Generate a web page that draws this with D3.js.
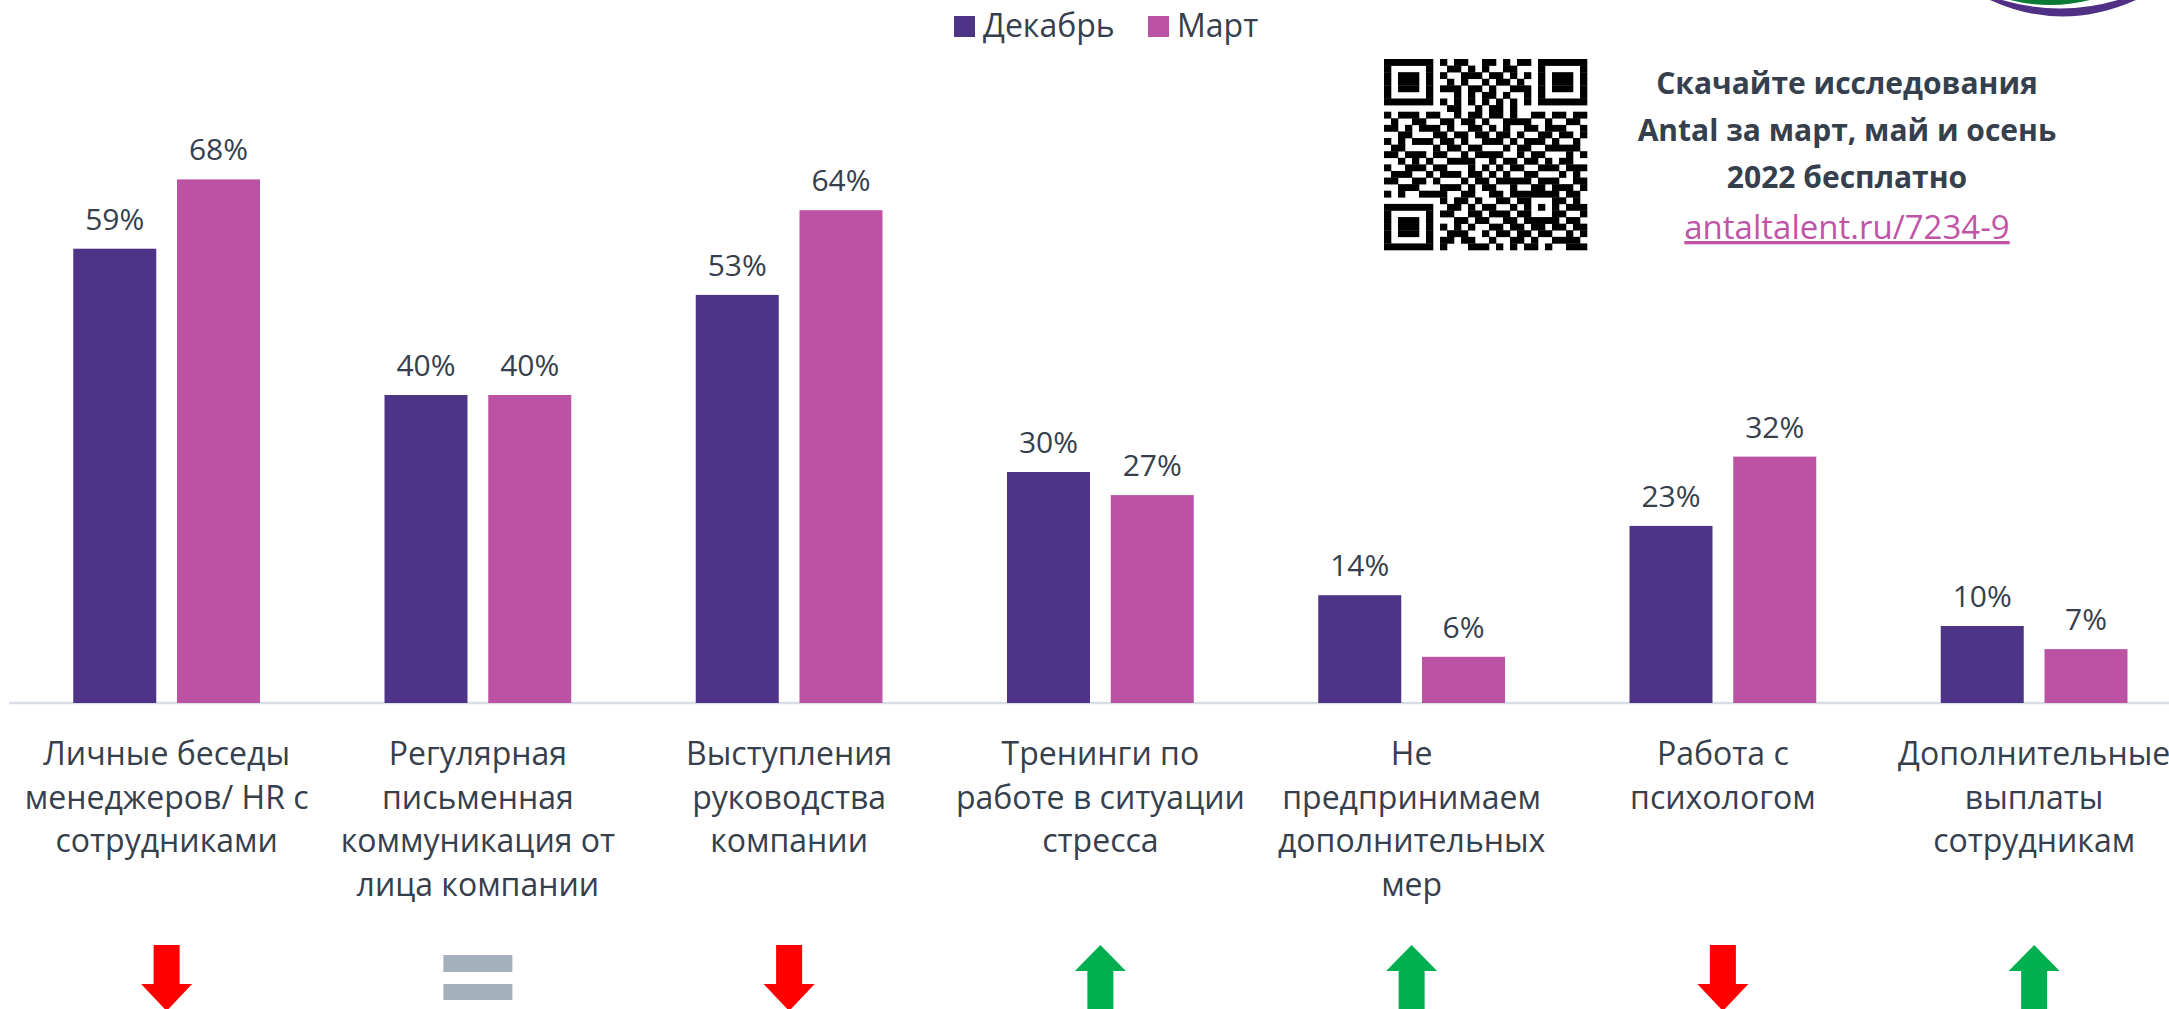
<!DOCTYPE html>
<html>
<head>
<meta charset="utf-8">
<script src="https://cdn.jsdelivr.net/npm/d3@7"></script>
<style>
  body { margin: 0; background: #ffffff; }
  svg { display: block; font-family: "Open Sans", "Noto Sans", sans-serif; }
  .value-label { font-size: 30px; fill: #36404c; text-anchor: middle; }
  .cat-label { font-size: 32px; fill: #36404c; }
  .legend-label { font-size: 32px; fill: #36404c; }
  .promo { font-size: 30px; font-weight: bold; fill: #36404c; text-anchor: middle; }
  .promo-link { font-size: 33px; fill: #c055a8; text-anchor: middle; text-decoration: underline; }
</style>
</head>
<body>
<svg id="chart"></svg>
<script>
const width = 2169;
const height = 1009;

// categories (line breaks as in the original slide)
const categories = [
  "Личные беседы\nменеджеров/ HR с\nсотрудниками",
  "Регулярная\nписьменная\nкоммуникация от\nлица компании",
  "Выступления\nруководства\nкомпании",
  "Тренинги по\nработе в ситуации\nстресса",
  "Не\nпредпринимаем\nдополнительных\nмер",
  "Работа с\nпсихологом",
  "Дополнительные\nвыплаты\nсотрудникам"
];
const series = ["Декабрь", "Март"];
const decValues = [59, 40, 53, 30, 14, 23, 10];
const marValues = [68, 40, 64, 27, 6, 32, 7];
const seriesColors = ["#4e3487", "#bc52a4"];

const promoLines = ["Скачайте исследования", "Antal за март, май и осень", "2022 бесплатно"];
const promoLink = "antaltalent.ru/7234-9";

// QR picture, one string per row (spaces only for readability)
const qrRows = [
  "1111111 0 1011001101011 0 1111111",
  "1000001 0 0110101001100 0 1000001",
  "1011101 0 1001110110101 0 1011101",
  "1011101 0 0101001011010 0 1011101",
  "1011101 0 1110110100111 0 1011101",
  "1000001 0 0010101101001 0 1000001",
  "1111111 0 1010101010101 0 1111111",
  "0000000 0 0110010110100 0 0000000",
  "10111 01100 10110 11010 01101 1011",
  "01001 10011 01101 00111 10010 0110",
  "11010 11101 00110 10100 11011 1001",
  "00110 00110 11011 01101 00110 1101",
  "10101 11011 01001 11010 11101 0010",
  "01100 00101 10110 00101 10011 1110",
  "11011 10110 01011 11001 01100 0101",
  "00101 01001 11100 10110 11010 1100",
  "10011 10110 00101 01011 00111 0111",
  "01110 01011 10110 10100 11000 1010",
  "11001 10100 01011 01111 10111 0011",
  "00111 00011 10101 10010 01101 1101",
  "10100 11110 01100 11011 11111 0110",
  "0000000 0 101101001101 10001 1010",
  "1111111 0 011010110010 10101 0111",
  "1000001 0 110011011101 10001 1001",
  "1011101 0 001101100110 11111 0110",
  "1011101 0 101010011011 01101 1011",
  "1011101 0 011100101101 10110 0101",
  "1000001 0 110110010011 01001 1110",
  "1111111 0 100011101010 11010 0111"
];

const margin = { top: 164, bottom: 306, left: 11 };
const step = 311.25;
const plotHeight = height - margin.top - margin.bottom;

let svg = d3.select("svg#chart").attr("width", width).attr("height", height);
const plot = svg.append("g").attr("id", "plot");

/* SCALES */

let x0 = d3.scaleBand()
  .domain(categories)
  .range([margin.left, margin.left + step * categories.length])
  .padding(0);

let x1 = d3.scaleBand()
  .domain(series)
  .range([0, x0.bandwidth()])
  .paddingInner(0.2)
  .paddingOuter(0.6);

let y = d3.scaleLinear()
  .domain([0, 70])
  .range([margin.top + plotHeight, margin.top]);

/* AXIS */

const baseY = y(0);
let xGroup = plot.append("g").attr("id", "x-axis")
  .attr("transform", translate(0, baseY))
  .call(d3.axisBottom(x0).tickSize(0).tickSizeOuter(0));

xGroup.select(".domain").attr("stroke", "#d9dee6").attr("stroke-width", 2.5)
  .attr("d", "M" + (margin.left - 2) + ",0H" + width);

xGroup.selectAll(".tick text").each(function(d) {
  const t = d3.select(this)
    .attr("class", "cat-label")
    .attr("font-size", null).attr("font-family", null).attr("fill", null)
    .attr("dy", null).attr("y", 0).text(null);
  d.split("\n").forEach((line, i) => {
    t.append("tspan").attr("x", 0).attr("y", 62 + i * 43.5).text(line);
  });
});
xGroup.attr("font-size", null).attr("font-family", null);

/* BARS */

const rows = categories.map((c, i) => ({ cat: c, values: [decValues[i], marValues[i]] }));

const groups = plot.append("g").attr("id", "bars")
  .selectAll("g")
  .data(rows)
  .enter()
  .append("g")
  .attr("transform", d => translate(x0(d.cat), 0));

groups.selectAll("rect")
  .data(d => d.values.map((v, k) => ({ key: series[k], value: v, k: k })))
  .enter()
  .append("rect")
  .attr("x", d => x1(d.key))
  .attr("y", d => y(d.value))
  .attr("width", x1.bandwidth())
  .attr("height", d => baseY - y(d.value))
  .style("fill", d => seriesColors[d.k]);

groups.selectAll("text")
  .data(d => d.values.map((v, k) => ({ key: series[k], value: v })))
  .enter()
  .append("text")
  .attr("class", "value-label")
  .attr("x", d => x1(d.key) + x1.bandwidth() / 2)
  .attr("y", d => y(d.value) - 19)
  .text(d => d.value + "%");

/* TREND ARROWS (Декабрь vs Март) */

const arrowTop = 945;
const trends = plot.append("g").attr("id", "trends")
  .selectAll("g")
  .data(rows)
  .enter()
  .append("g")
  .attr("transform", d => translate(x0(d.cat) + x0.bandwidth() / 2, arrowTop));

trends.each(function(d) {
  const g = d3.select(this);
  const diff = d.values[0] - d.values[1];
  if (diff < 0) {
    g.append("path").attr("d", "M-13,0H13V39H25.5L0,66L-25.5,39H-13Z").style("fill", "#ff0000");
  } else if (diff > 0) {
    g.append("path").attr("d", "M0,0L25.5,26H13V66H-13V26H-25.5Z").style("fill", "#00b050");
  } else {
    g.append("rect").attr("x", -34.5).attr("y", 10).attr("width", 69).attr("height", 17).style("fill", "#a5b0bd");
    g.append("rect").attr("x", -34.5).attr("y", 39).attr("width", 69).attr("height", 16).style("fill", "#a5b0bd");
  }
});

/* LEGEND */

const legendGroup = svg.append("g").attr("id", "legend");
const legendX = [954, 1148];
series.forEach((s, k) => {
  legendGroup.append("rect")
    .attr("x", legendX[k]).attr("y", 16)
    .attr("width", 21).attr("height", 21)
    .style("fill", seriesColors[k]);
  legendGroup.append("text")
    .attr("class", "legend-label")
    .attr("x", legendX[k] + 29).attr("y", 37)
    .text(s);
});

/* QR + PROMO */

const qr = svg.append("g").attr("id", "qr").attr("transform", translate(1384, 59));
const qrCells = [];
qrRows.forEach((r, i) => {
  r.replace(/ /g, "").split("").forEach((c, j) => {
    if (c === "1") qrCells.push([i, j]);
  });
});
const qrW = 203 / 29;
const qrH = 191 / 29;
qr.selectAll("rect")
  .data(qrCells)
  .enter()
  .append("rect")
  .attr("x", d => d[1] * qrW)
  .attr("y", d => d[0] * qrH)
  .attr("width", qrW + 0.3)
  .attr("height", qrH + 0.3)
  .style("fill", "#000");

const promo = svg.append("g").attr("id", "promo");
promoLines.forEach((line, i) => {
  promo.append("text")
    .attr("class", "promo")
    .attr("x", 1847).attr("y", 94 + i * 47)
    .text(line);
});
promo.append("text")
  .attr("class", "promo-link")
  .attr("x", 1847).attr("y", 239)
  .text(promoLink);

/* LOGO CORNER */

const logo = svg.append("g").attr("id", "logo");
logo.append("path")
  .attr("d", "M1990,0Q2062,33 2136,0L2118,0Q2060,17 2002,0Z")
  .style("fill", "#4f3085");
logo.append("path")
  .attr("d", "M2010,0Q2050,10 2090,0Z")
  .style("fill", "#0b7a35");

function translate(x, y) {
  return "translate(" + String(x) + "," + String(y) + ")";
}
</script>
</body>
</html>
